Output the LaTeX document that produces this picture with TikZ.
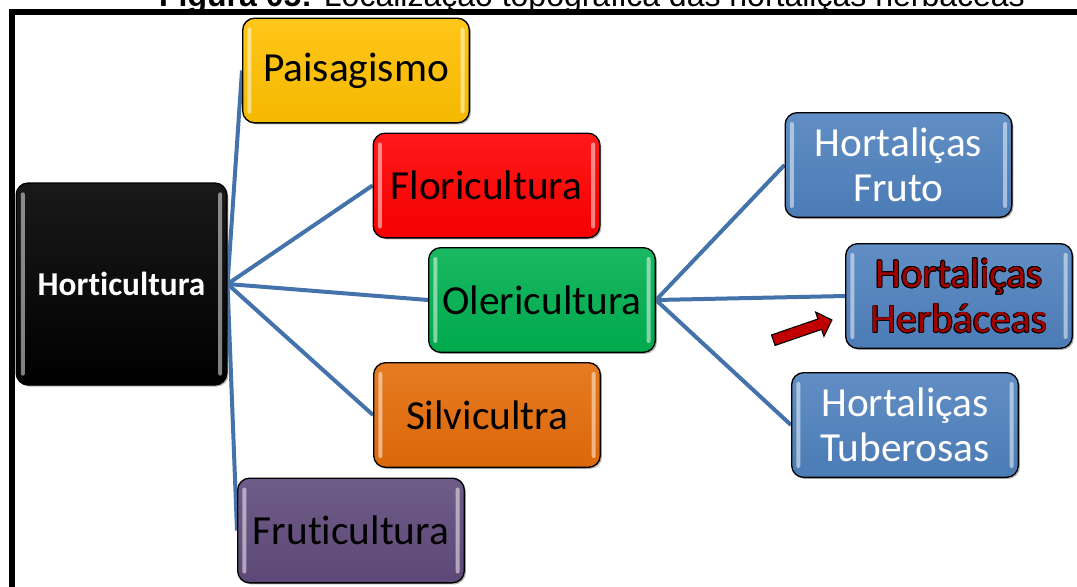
\documentclass[tikz,border=0pt]{standalone}
\usepackage{fontspec}
\setmainfont[Ligatures={NoCommon}]{Carlito}
\newfontfamily\captionfont{Liberation Sans}
\usetikzlibrary{shapes.arrows, backgrounds, shadows}

\definecolor{boxyellow}{RGB}{255,192,0}
\definecolor{boxred}{RGB}{255,0,0}
\definecolor{boxgreen}{RGB}{0,176,80}
\definecolor{boxorange}{RGB}{228,108,10}
\definecolor{boxpurple}{RGB}{96,74,123}
\definecolor{boxblue}{RGB}{79,129,189}
\definecolor{linkblue}{RGB}{68,114,170}
\definecolor{herbred}{RGB}{160,0,0}
\definecolor{cuered}{RGB}{192,0,0}

% black outline round dark red letters
\newcommand\inkcopy[3]{\rlap{\kern#1\raisebox{#2}{\textcolor{black}{#3}}}}
\newcommand\inked[1]{\leavevmode
  \inkcopy{-.6pt}{0pt}{#1}\inkcopy{.6pt}{0pt}{#1}%
  \inkcopy{0pt}{.6pt}{#1}\inkcopy{0pt}{-.6pt}{#1}%
  \inkcopy{.42pt}{.42pt}{#1}\inkcopy{-.42pt}{.42pt}{#1}%
  \inkcopy{.42pt}{-.42pt}{#1}\inkcopy{-.42pt}{-.42pt}{#1}%
  \textcolor{herbred}{#1}}

\begin{document}
\begin{tikzpicture}[x=0.75pt, y=-0.75pt,
  box/.style={rectangle, rounded corners=9pt, draw=black, line width=1pt,
    top color=#1!90!white, bottom color=#1!96!black,
    minimum width=170pt, minimum height=78.5pt, inner sep=2pt,
    align=center, font=\fontsize{31}{34}\selectfont,
    drop shadow={shadow xshift=1.2pt, shadow yshift=-1.2pt, opacity=.6},
    path picture={
      \fill[white, opacity=.5, rounded corners=1.5pt]
        ([xshift=3.5pt, yshift=-7pt]path picture bounding box.north west) rectangle
        ([xshift=6.5pt, yshift=7pt]path picture bounding box.south west);
      \fill[white, opacity=.5, rounded corners=1.5pt]
        ([xshift=-6.5pt, yshift=-7pt]path picture bounding box.north east) rectangle
        ([xshift=-3.5pt, yshift=7pt]path picture bounding box.south east);
    }},
  link/.style={draw=linkblue, line width=3pt},
  pointer/.style={single arrow, draw=black, line width=.8pt, fill=cuered,
    minimum height=46.5pt, inner xsep=0pt, inner ysep=3.75pt,
    single arrow head extend=5.5pt}]

  % page and clipped caption
  \path[use as bounding box] (0,0) rectangle (1077,586);
  \clip (0,0) rectangle (1077,586);
  \node[anchor=base, font=\captionfont\fontsize{24}{28}\selectfont] (caption) at (592,6.5)
    {\textbf{Figura 05:} Localização topográfica das hortaliças herbáceas};
  \draw[line width=4.5pt] (11.5,590) -- (11.5,12.25) -- (1080,12.25);

  % main branch
  \node[box=black, minimum width=158pt, minimum height=151.5pt, text=white,
    font=\bfseries\fontsize{25}{30}\selectfont] (hort) at (121.5,284) {Horticultura};
  \node[box=boxyellow] (pais) at (356,70.5) {Paisagismo};
  \node[box=boxred] (flor) at (486.5,185.5) {Floricultura};
  \node[box=boxgreen] (oler) at (542,300) {Olericultura};
  \node[box=boxorange] (silv) at (487,415) {Silvicultra};
  \node[box=boxpurple] (frut) at (351,530.5) {Fruticultura};

  % vegetable groups
  \node[box=boxblue, text=white] (hfru) at (898.5,165) {Hortaliças\\Fruto};
  \node[box=boxblue] (hherb) at (959,296) {\inked{Hortaliças}\\\inked{Herbáceas}};
  \node[box=boxblue, text=white] (htub) at (905,425) {Hortaliças\\Tuberosas};

  \node[pointer, rotate=19] (cue) at (800,331) {};

  % connectors
  \begin{scope}[on background layer]
    \foreach \leaf in {pais,flor,oler,silv,frut}
      \draw[link] (hort.east) -- (\leaf.west);
    \foreach \leaf in {hfru,hherb,htub}
      \draw[link] (oler.east) -- (\leaf.west);
  \end{scope}
\end{tikzpicture}
\end{document}
